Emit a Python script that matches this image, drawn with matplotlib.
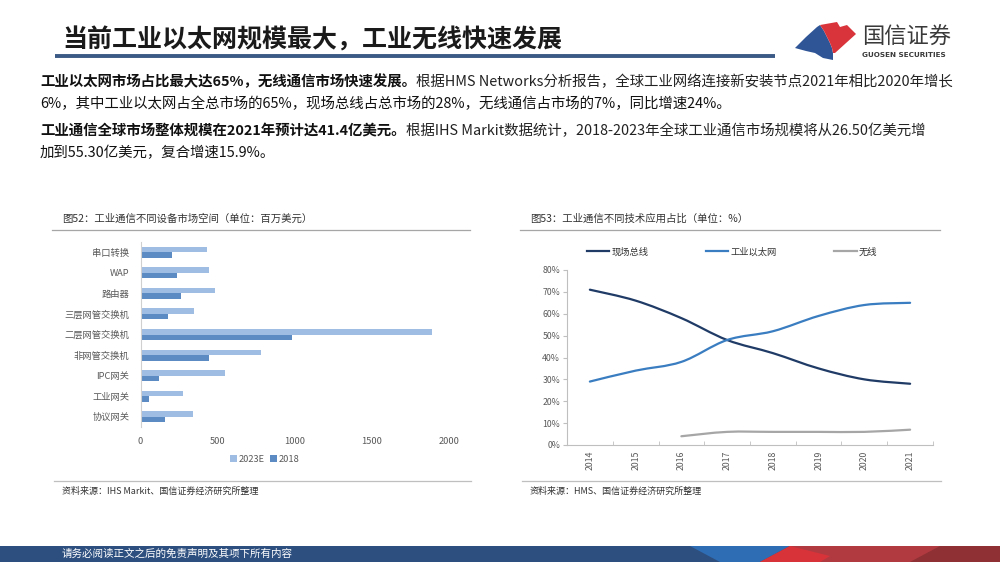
import matplotlib
matplotlib.use('Agg')
import matplotlib.pyplot as plt
from matplotlib.path import Path
from matplotlib.patches import PathPatch, Polygon
from matplotlib.lines import Line2D

plt.rcParams['font.family'] = ['Noto Sans CJK SC', 'DejaVu Sans']

# 图52 数据（百万美元）
devices = ['串口转换', 'WAP', '路由器', '三层网管交换机', '二层网管交换机',
           '非网管交换机', 'IPC网关', '工业网关', '协议网关']
size_2023e = [428, 441, 482, 346, 1890, 778, 551, 276, 341]
size_2018 = [207, 238, 263, 179, 985, 443, 121, 56, 160]

# 图53 数据（占比）
years = ['2014', '2015', '2016', '2017', '2018', '2019', '2020', '2021']
fieldbus = [0.71, 0.66, 0.58, 0.48, 0.42, 0.35, 0.30, 0.28]
ethernet = [0.29, 0.34, 0.38, 0.48, 0.52, 0.59, 0.64, 0.65]
wireless = [None, None, 0.04, 0.06, 0.06, 0.06, 0.06, 0.07]

W, H = 1000, 562
fig = plt.figure(figsize=(10, 5.62), dpi=100)

# 背景层，用像素坐标摆放页面元素
bg = fig.add_axes([0, 0, 1, 1])
bg.set_xlim(0, W)
bg.set_ylim(H, 0)
bg.axis('off')


def box(l, t, r, b):
    return [l / W, 1 - b / H, (r - l) / W, (b - t) / H]


# 标题
bg.text(62, 40, '当前工业以太网规模最大，工业无线快速发展', fontsize=18, fontweight='bold',
        color='#1a1a1a', va='center', ha='left')
bg.plot([55, 775], [56, 56], color='#3B5A85', lw=2.8, solid_capstyle='butt')

# logo
s_curve = [(820, 25), (824, 31), (827, 37), (830, 43), (832, 48), (833, 53), (833, 60)]
bg.add_patch(Polygon([(795, 48), (806, 37), (817, 27)] + s_curve + [(823, 58), (815, 53), (806, 51)],
                     closed=True, color='#2F5597', lw=0))
bg.add_patch(Polygon(s_curve[::-1][1:] + [(820, 25), (837, 22), (840, 27), (847, 25), (856, 34),
                                         (835, 53)],
                     closed=True, color='#D9343B', lw=0))
bg.text(862, 37, '国信证券', fontsize=16, color='#3a3a3a', va='center', ha='left')
bg.text(862, 55, 'GUOSEN SECURITIES', fontsize=5.2, fontweight='bold', color='#3a3a3a',
        va='center', ha='left', family='DejaVu Sans')

# 正文
fs = 10.4
para = [
    (82, '工业以太网市场占比最大达65%，无线通信市场快速发展。',
     '根据HMS Networks分析报告，全球工业网络连接新安装节点2021年相比2020年增长'),
    (104, '', '6%，其中工业以太网占全总市场的65%，现场总线占总市场的28%，无线通信占市场的7%，同比增速24%。'),
    (131, '工业通信全球市场整体规模在2021年预计达41.4亿美元。',
     '根据IHS Markit数据统计，2018-2023年全球工业通信市场规模将从26.50亿美元增'),
    (153, '', '加到55.30亿美元，复合增速15.9%。'),
]
for y, bold, normal in para:
    t = bg.text(40, y, bold, fontsize=fs, fontweight='bold', color='#111111',
                va='center', ha='left')
    if bold:
        bg.annotate(normal, xy=(1, 0.5), xycoords=t, va='center', ha='left',
                    fontsize=fs, color='#222222')
    else:
        t.set_text(normal)
        t.set_fontweight('normal')

# 图表标题和分隔线
bg.text(62, 219, '图52：工业通信不同设备市场空间（单位：百万美元）', fontsize=7.5,
        color='#333333', va='center', ha='left')
bg.text(530, 219, '图53：工业通信不同技术应用占比（单位：%）', fontsize=7.5,
        color='#333333', va='center', ha='left')
for x0, x1 in [(52, 470), (520, 940)]:
    bg.plot([x0, x1], [230, 230], color='#A6A6A6', lw=0.9)
    bg.plot([x0 + 2, x1 + 1], [481, 481], color='#BFBFBF', lw=0.9)
bg.text(62, 491, '资料来源：IHS Markit、国信证券经济研究所整理', fontsize=6.5,
        color='#333333', va='center', ha='left')
bg.text(530, 491, '资料来源：HMS、国信证券经济研究所整理', fontsize=6.5,
        color='#333333', va='center', ha='left')

# 底部色带
bg.add_patch(Polygon([(0, 546), (1000, 546), (1000, 562), (0, 562)], closed=True,
                     color='#2D4F7F', lw=0))
bg.add_patch(Polygon([(690, 546), (790, 546), (760, 562), (720, 562)], closed=True,
                     color='#2E6DB4', lw=0))
bg.add_patch(Polygon([(790, 546), (1000, 546), (1000, 562), (760, 562)], closed=True,
                     color='#B03A40', lw=0))
bg.add_patch(Polygon([(790, 546), (830, 556), (820, 562), (760, 562)], closed=True,
                     color='#D9333A', lw=0))
bg.add_patch(Polygon([(910, 562), (940, 546), (1000, 546), (1000, 562)], closed=True,
                     color='#8E3034', lw=0))
bg.text(62, 554, '请务必阅读正文之后的免责声明及其项下所有内容', fontsize=7.6,
        color='white', va='center', ha='left')

# ---- 图52：条形图 ----
ax1 = fig.add_axes(box(140.5, 242, 449, 427))
idx = list(range(len(devices)))
bh = 0.27
ax1.barh([i - bh / 2 for i in idx], size_2023e, height=bh, color='#9FBCE2', label='2023E')
ax1.barh([i + bh / 2 for i in idx], size_2018, height=bh, color='#5B8BC2', label='2018')
ax1.set_ylim(len(devices) - 0.5, -0.5)
ax1.set_xlim(0, 2000)
ax1.set_yticks(idx)
ax1.set_yticklabels(devices)
ax1.set_xticks([0, 500, 1000, 1500, 2000])
ax1.tick_params(axis='both', length=0, labelsize=6.7, labelcolor='#595959')
ax1.tick_params(axis='x', pad=7)
ax1.tick_params(axis='y', pad=8)
for s in ['top', 'right', 'bottom']:
    ax1.spines[s].set_visible(False)
ax1.spines['left'].set_color('#D0D0D0')
ax1.patch.set_alpha(0)
ax1.legend(loc='center', bbox_to_anchor=(265 / W, 1 - 459 / H), bbox_transform=fig.transFigure,
           ncol=2, frameon=False, fontsize=6.7, handlelength=0.7, handleheight=0.7,
           handletextpad=0.2, columnspacing=0.6, labelcolor='#595959')

# ---- 图53：折线图（平滑） ----
ax2 = fig.add_axes(box(567, 270, 933, 445))


def smooth_path(xs, ys):
    pts = [(x, y) for x, y in zip(xs, ys) if y is not None]
    verts = [pts[0]]
    codes = [Path.MOVETO]
    n = len(pts)
    for i in range(n - 1):
        p0 = pts[max(i - 1, 0)]
        p1 = pts[i]
        p2 = pts[i + 1]
        p3 = pts[min(i + 2, n - 1)]
        c1 = (p1[0] + (p2[0] - p0[0]) / 6, p1[1] + (p2[1] - p0[1]) / 6)
        c2 = (p2[0] - (p3[0] - p1[0]) / 6, p2[1] - (p3[1] - p1[1]) / 6)
        verts += [c1, c2, p2]
        codes += [Path.CURVE4] * 3
    return Path(verts, codes)


xpos = list(range(len(years)))
series = [('现场总线', fieldbus, '#1F3B66'),
          ('工业以太网', ethernet, '#3A7DC0'),
          ('无线', wireless, '#A6A6A6')]
handles = []
for name, vals, col in series:
    ax2.add_patch(PathPatch(smooth_path(xpos, vals), fill=False, edgecolor=col, lw=1.6,
                            capstyle='round'))
    handles.append(Line2D([], [], color=col, lw=1.6, label=name))

ax2.set_xlim(-0.5, len(years) - 0.5)
ax2.set_ylim(0, 0.8)
ax2.set_yticks([i / 10 for i in range(9)])
ax2.set_yticklabels([f'{i * 10}%' for i in range(9)])
ax2.set_xticks(xpos)
ax2.set_xticklabels(years, rotation=90)
ax2.set_xticks([i - 0.5 for i in range(len(years) + 1)], minor=True)
ax2.tick_params(axis='x', which='major', length=0, labelsize=6.3, labelcolor='#595959', pad=4)
ax2.tick_params(axis='x', which='minor', length=3, color='#BFBFBF', direction='in')
ax2.tick_params(axis='y', length=3, color='#BFBFBF', labelsize=6.3, labelcolor='#595959', pad=2)
for s in ['top', 'right']:
    ax2.spines[s].set_visible(False)
for s in ['left', 'bottom']:
    ax2.spines[s].set_color('#BFBFBF')
ax2.patch.set_alpha(0)
ax2.legend(handles=handles, loc='center', bbox_to_anchor=(732 / W, 1 - 252 / H),
           bbox_transform=fig.transFigure, ncol=3, frameon=False, fontsize=6.7,
           handlelength=2.4, handletextpad=0.2, columnspacing=6.2, labelcolor='#333333')

fig.savefig('out.png', dpi=100)
